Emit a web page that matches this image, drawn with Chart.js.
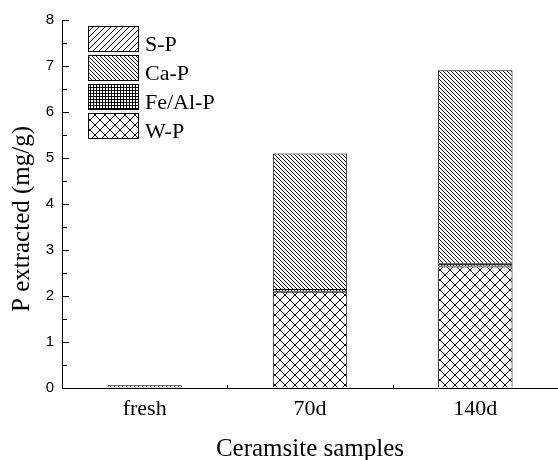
<!DOCTYPE html>
<html>
<head>
<meta charset="utf-8">
<script src="https://cdn.jsdelivr.net/npm/chart.js@4/dist/chart.umd.min.js"></script>
<style>
  html, body { margin: 0; padding: 0; background: #fff; }
  #wrap { width: 558px; height: 460px; position: relative; }
</style>
</head>
<body>
<div id="wrap"><canvas id="chart"></canvas></div>
<script>
// Data
const categories = ['fresh', '70d', '140d'];
const wP = [0.015, 2.09, 2.64];
const feAlP = [0.01, 0.06, 0.07];
const caP = [0.035, 2.95, 4.2];
const sP = [0, 0, 0];
const yTicks = [0, 1, 2, 3, 4, 5, 6, 7, 8];

// Hatch patterns
function makePattern(size, drawFn) {
    const c = document.createElement('canvas');
    c.width = size;
    c.height = size;
    const g = c.getContext('2d');
    g.fillStyle = '#fff';
    g.fillRect(0, 0, size, size);
    g.strokeStyle = '#000';
    g.lineWidth = 1;
    drawFn(g, size);
    return g.createPattern(c, 'repeat');
}
function slash(g, p) {
    g.beginPath();
    g.moveTo(-1, p + 1); g.lineTo(p + 1, -1);
    g.moveTo(-1, 1); g.lineTo(1, -1);
    g.moveTo(p - 1, p + 1); g.lineTo(p + 1, p - 1);
    g.stroke();
}
function backslash(g, p) {
    g.beginPath();
    g.moveTo(-1, -1); g.lineTo(p + 1, p + 1);
    g.moveTo(p - 1, -1); g.lineTo(p + 1, 1);
    g.moveTo(-1, p - 1); g.lineTo(1, p + 1);
    g.stroke();
}
function grid(g, p) {
    g.beginPath();
    g.moveTo(0.5, 0); g.lineTo(0.5, p);
    g.moveTo(0, 0.5); g.lineTo(p, 0.5);
    g.stroke();
}
function cross(g, p) {
    slash(g, p);
    backslash(g, p);
}

const patW = makePattern(10, cross);
const patFe = makePattern(3, grid);
const patCa = makePattern(4, backslash);
const patS = makePattern(6, slash);

const serif = '"Liberation Serif", "Times New Roman", serif';
const sans = '"Liberation Sans", Arial, sans-serif';

// Legend drawn inside the plot (top-left), reversed order
const legendPlugin = {
    id: 'hatchLegend',
    afterDraw(chart) {
        const ctx = chart.ctx;
        const ds = chart.data.datasets.slice().reverse();
        ctx.save();
        ds.forEach((d, i) => {
            const x = 88, y = 26 + i * 29;
            ctx.fillStyle = d.backgroundColor;
            ctx.fillRect(x, y, 51, 26);
            ctx.strokeStyle = '#000';
            ctx.lineWidth = 1;
            ctx.strokeRect(x + 0.5, y + 0.5, 50, 25);
            ctx.fillStyle = '#000';
            ctx.font = '22px ' + serif;
            ctx.textBaseline = 'alphabetic';
            ctx.textAlign = 'left';
            ctx.fillText(d.label, 145, y + 24.5);
        });
        ctx.restore();
    }
};

// Inward ticks and axis titles
const axisPlugin = {
    id: 'inwardTicks',
    afterDraw(chart) {
        const ctx = chart.ctx;
        const ys = chart.scales.y, xs = chart.scales.x;
        const left = chart.chartArea.left, bottom = chart.chartArea.bottom;
        ctx.save();
        ctx.strokeStyle = '#000';
        ctx.lineWidth = 1;
        ctx.beginPath();
        for (let v = 0; v <= 8; v += 0.5) {
            const py = Math.round(ys.getPixelForValue(v)) + 0.5;
            const len = (v % 1 === 0) ? 7 : 5;
            ctx.moveTo(left, py);
            ctx.lineTo(left + len, py);
        }
        for (let i = 1; i < categories.length; i++) {
            const px = Math.round((xs.getPixelForValue(i - 1) + xs.getPixelForValue(i)) / 2) + 0.5;
            ctx.moveTo(px, bottom);
            ctx.lineTo(px, bottom - 3);
        }
        ctx.stroke();

        ctx.fillStyle = '#000';
        ctx.textAlign = 'center';
        ctx.textBaseline = 'middle';
        ctx.font = '25px ' + serif;
        ctx.fillText('Ceramsite samples', 310, 449);
        ctx.translate(22, 219);
        ctx.rotate(-Math.PI / 2);
        ctx.fillText('P extracted (mg/g)', 0, 0);
        ctx.restore();
    }
};

const common = { borderColor: '#000', borderWidth: 1, categoryPercentage: 1, barPercentage: 0.45 };

new Chart(document.getElementById('chart'), {
    type: 'bar',
    data: {
        labels: categories,
        datasets: [
            Object.assign({ label: 'W-P', data: wP, backgroundColor: patW }, common),
            Object.assign({ label: 'Fe/Al-P', data: feAlP, backgroundColor: patFe, borderSkipped: false }, common),
            Object.assign({ label: 'Ca-P', data: caP, backgroundColor: patCa }, common),
            Object.assign({ label: 'S-P', data: sP, backgroundColor: patS }, common)
        ]
    },
    options: {
        responsive: true,
        maintainAspectRatio: false,
        animation: false,
        layout: { padding: { top: 20, right: 0, left: 0, bottom: 0 } },
        plugins: { legend: { display: false }, tooltip: { enabled: false } },
        scales: {
            x: {
                stacked: true,
                grid: { drawOnChartArea: false, drawTicks: false },
                border: { color: '#000', width: 1 },
                ticks: { color: '#000', font: { family: serif, size: 22 }, padding: 8 },
                afterFit(scale) { scale.height = 72; }
            },
            y: {
                stacked: true,
                min: 0,
                max: 8,
                afterBuildTicks(scale) { scale.ticks = yTicks.map(v => ({ value: v })); },
                grid: { drawOnChartArea: false, drawTicks: false },
                border: { color: '#000', width: 1 },
                ticks: { color: '#000', font: { family: sans, size: 15 }, padding: 8 },
                afterFit(scale) { scale.width = 62; }
            }
        }
    },
    plugins: [legendPlugin, axisPlugin]
});
</script>
</body>
</html>
